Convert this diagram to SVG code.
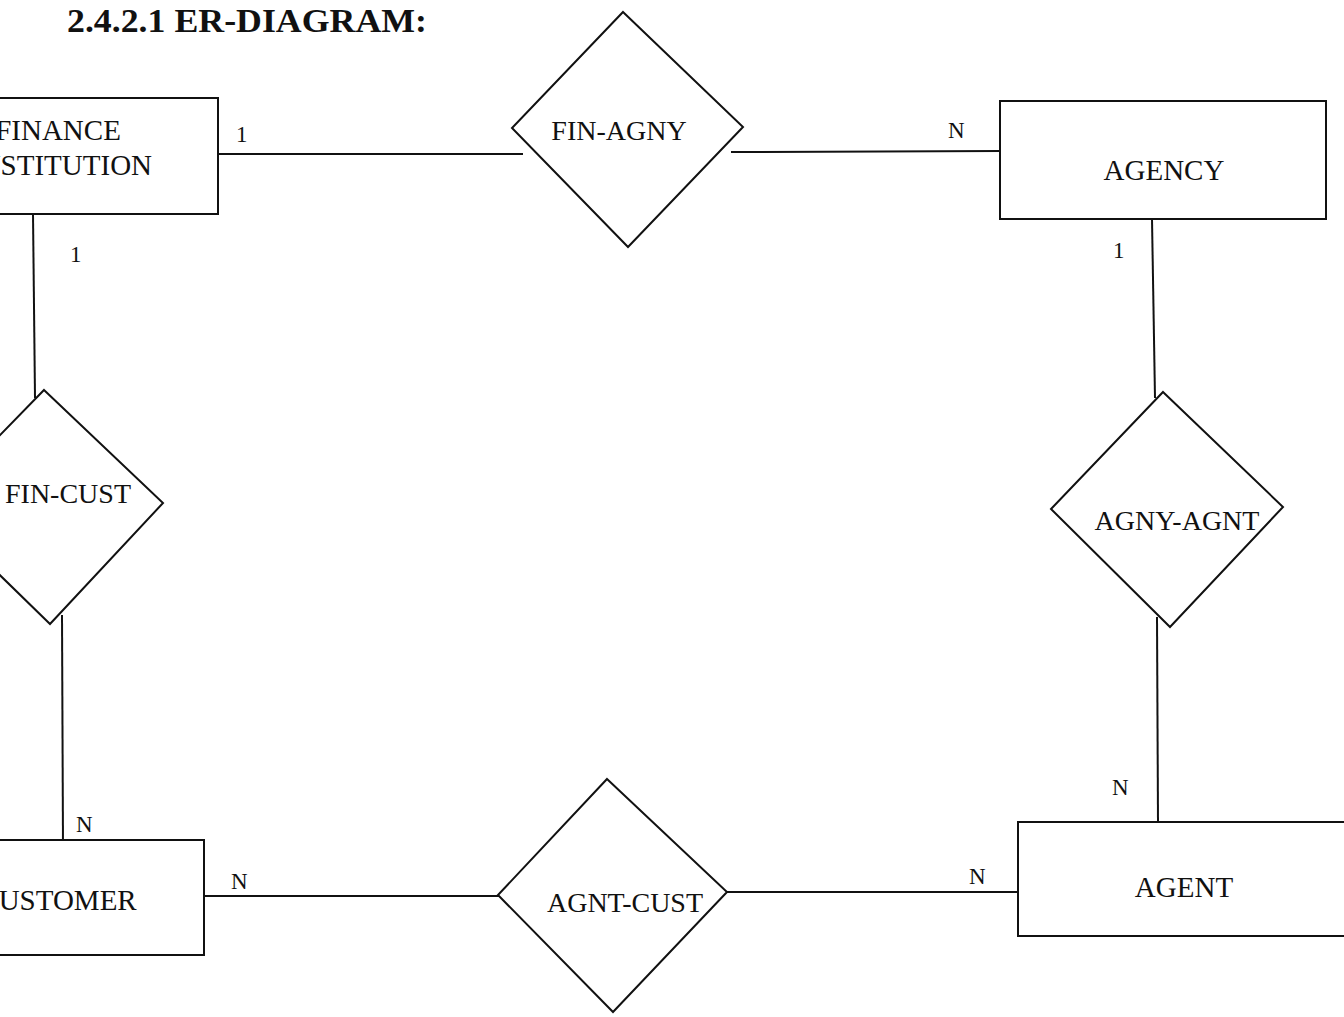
<svg xmlns="http://www.w3.org/2000/svg" width="1344" height="1017" viewBox="0 0 1344 1017">
  <style>
    .shape { fill: #ffffff; stroke: #111111; stroke-width: 2; }
    .link { stroke: #111111; stroke-width: 2; fill: none; }
    .label { font-family: "Liberation Serif", "Times New Roman", serif; font-size: 28px; fill: #111111; text-anchor: middle; }
    .card { font-family: "Liberation Serif", "Times New Roman", serif; font-size: 23px; fill: #111111; }
    .title { font-family: "Liberation Serif", "Times New Roman", serif; font-size: 34px; font-weight: bold; fill: #111111; }
  </style>
  <rect width="1344" height="1017" fill="#ffffff"/>

  <text class="title" x="67" y="32" textLength="360" lengthAdjust="spacingAndGlyphs">2.4.2.1 ER-DIAGRAM:</text>

  <!-- relationship lines with cardinalities -->
  <g id="connectors">
    <line class="link" x1="218" y1="154" x2="523" y2="154"/>
    <line class="link" x1="731" y1="152" x2="1000" y2="151"/>
    <line class="link" x1="1152" y1="219" x2="1155" y2="398"/>
    <line class="link" x1="1157" y1="617" x2="1158" y2="822"/>
    <line class="link" x1="727" y1="892" x2="1018" y2="892"/>
    <line class="link" x1="204" y1="896" x2="500" y2="896"/>
    <line class="link" x1="62" y1="615" x2="63" y2="846"/>
    <line class="link" x1="33" y1="214" x2="35" y2="398"/>

    <text class="card" x="236" y="142">1</text>
    <text class="card" x="948" y="138">N</text>
    <text class="card" x="1113" y="258">1</text>
    <text class="card" x="1112" y="795">N</text>
    <text class="card" x="969" y="884">N</text>
    <text class="card" x="231" y="889">N</text>
    <text class="card" x="76" y="832">N</text>
    <text class="card" x="70" y="262">1</text>
  </g>

  <!-- entities -->
  <g id="finance-institution">
    <rect class="shape" x="-40" y="98" width="258" height="116"/>
    <text class="label" x="58" y="140" style="font-size:29px">FINANCE</text>
    <text class="label" x="61" y="175" style="font-size:29px">INSTITUTION</text>
  </g>
  <g id="agency">
    <rect class="shape" x="1000" y="101" width="326" height="118"/>
    <text class="label" x="1164" y="180" style="font-size:29px">AGENCY</text>
  </g>
  <g id="agent">
    <rect class="shape" x="1018" y="822" width="330" height="114"/>
    <text class="label" x="1184" y="897" style="font-size:29px">AGENT</text>
  </g>
  <g id="customer">
    <rect class="shape" x="-40" y="840" width="244" height="115"/>
    <text class="label" x="58" y="910" style="font-size:29px">CUSTOMER</text>
  </g>

  <!-- relationships -->
  <g id="fin-agny">
    <polygon class="shape" points="623,12 743,127 628,247 512,128"/>
    <text class="label" x="619" y="140">FIN-AGNY</text>
  </g>
  <g id="agny-agnt">
    <polygon class="shape" points="1163,392 1283,507 1170,627 1051,509"/>
    <text class="label" x="1177" y="530">AGNY-AGNT</text>
  </g>
  <g id="agnt-cust">
    <polygon class="shape" points="607,779 727,892 613,1012 498,895"/>
    <text class="label" x="625" y="912">AGNT-CUST</text>
  </g>
  <g id="fin-cust">
    <polygon class="shape" points="44,390 163,503 50,624 -70,507"/>
    <text class="label" x="68" y="503">FIN-CUST</text>
  </g>
</svg>
